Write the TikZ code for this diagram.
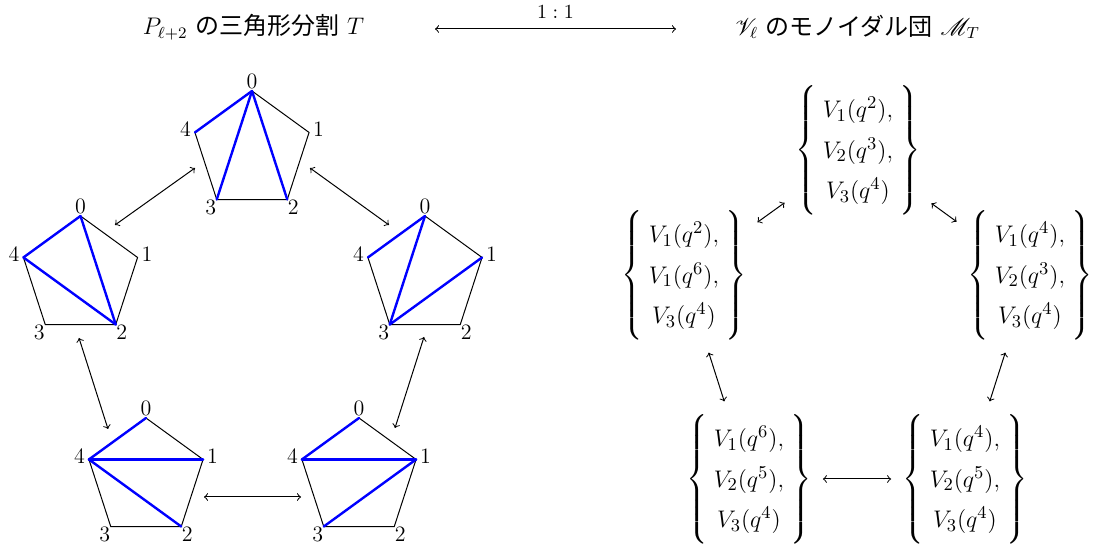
\documentclass[tikz,border=0pt]{standalone}
\usepackage{amsmath}
\usepackage{mathrsfs}
\usepackage{fontspec}
\newfontfamily\jpfont{Noto Sans CJK JP}
\usetikzlibrary{calc}
\tikzset{
  pedge/.style={draw=black, line width=0.5pt},
  diag/.style={draw=blue, line width=1.2pt, line cap=round},
  vlabel/.style={inner sep=0pt, font=\fontsize{11}{13}\selectfont},
  setnode/.style={inner sep=0pt, font=\fontsize{13}{15.6}\selectfont},
  link/.style={<->, line width=0.5pt},
  titlenode/.style={font=\large, inner sep=0pt},
}
\newcommand{\pentagonpic}[4]{%
  \coordinate (#1) at (#2);
  \foreach \k in {0,...,4} {
    \coordinate (#1-\k) at ($(#1)+({90-72*\k}:60)$);
    \node[vlabel] (#1-l\k) at ($(#1)+({90-72*\k}:70)$) {\k};
  }
  \draw[pedge] (#1-0) -- (#1-1) -- (#1-2) -- (#1-3) -- (#1-4) -- cycle;
  \foreach \a/\b in {#3} \draw[diag] (#1-\a) -- (#1-\b);
}
\newcommand{\setof}[3]{$\delimitershortfall=0pt\left\{\rule[-27.75pt]{0pt}{62pt}\arraycolsep=3pt\renewcommand{\arraystretch}{1.3}\begin{array}{c}#1,\\#2,\\#3\end{array}\right\}$}
\begin{document}
\begin{tikzpicture}[x=0.5pt,y=0.5pt]
\useasboundingbox (0,0) rectangle (1094,547);
% titles
\node[titlenode] (tl) at (253.5,520) {$P_{\ell+2}$ {\jpfont の三角形分割} $T$};
\node[titlenode] (tr) at (857.5,520) {$\mathscr{V}_\ell$ {\jpfont のモノイダル団} $\mathscr{M}_T$};
\coordinate (ta) at (435,518);
\coordinate (tb) at (676,518);
\draw[link] (ta) -- node[above=5pt, inner sep=0pt, font=\normalsize] (ratio) {$1:1$} (tb);
% pentagons
\pentagonpic{P1}{252,396}{0/4,0/3,0/2}{}
\pentagonpic{P2}{80.5,271}{0/4,4/2,0/2}{}
\pentagonpic{P3}{425,271}{0/4,0/3,3/1}{}
\pentagonpic{P4}{146,69}{0/4,4/1,4/2}{}
\pentagonpic{P5}{359,69}{0/4,4/1,3/1}{}
% arrows between pentagons
\coordinate (a12) at (195,379); \coordinate (a21) at (115,322);
\coordinate (a13) at (310,379); \coordinate (a31) at (389,322);
\coordinate (a24) at (79,209);  \coordinate (a42) at (108,118);
\coordinate (a35) at (424,210); \coordinate (a53) at (395,119);
\coordinate (a45) at (204,50);  \coordinate (a54) at (301,50);
\draw[link] (a12) -- (a21);
\draw[link] (a13) -- (a31);
\draw[link] (a24) -- (a42);
\draw[link] (a35) -- (a53);
\draw[link] (a45) -- (a54);
% sets
\node[setnode] (S1) at (858,397) {\setof{V_1(q^2)}{V_2(q^3)}{V_3(q^4)}};
\node[setnode] (S2) at (684,272) {\setof{V_1(q^2)}{V_1(q^6)}{V_3(q^4)}};
\node[setnode] (S3) at (1030,272) {\setof{V_1(q^4)}{V_2(q^3)}{V_3(q^4)}};
\node[setnode] (S4) at (749,68) {\setof{V_1(q^6)}{V_2(q^5)}{V_3(q^4)}};
\node[setnode] (S5) at (965,68) {\setof{V_1(q^4)}{V_2(q^5)}{V_3(q^4)}};
\draw[link, shorten <=6.5pt, shorten >=6.5pt] (S2) -- (S1);
\draw[link, shorten <=6.5pt, shorten >=6.5pt] (S1) -- (S3);
\draw[link, shorten <=6.5pt, shorten >=6.5pt] (S2) -- (S4);
\draw[link, shorten <=6.5pt, shorten >=6.5pt] (S3) -- (S5);
\draw[link, shorten <=5.5pt, shorten >=5.5pt] (S4) -- (S5);
\end{tikzpicture}
\end{document}
